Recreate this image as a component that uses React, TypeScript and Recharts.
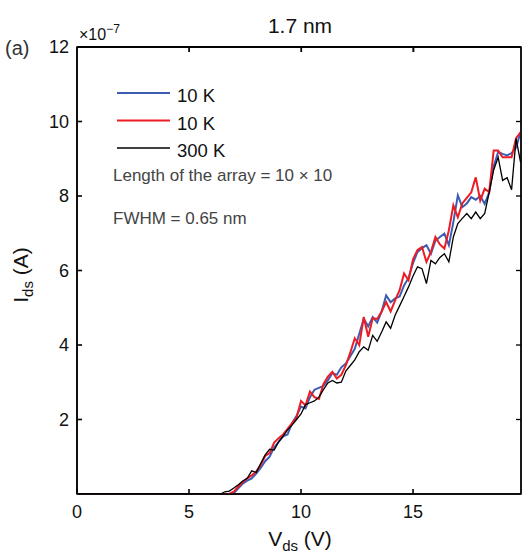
import { LineChart, Line, XAxis, YAxis, Legend, ReferenceArea } from "recharts"

// drain voltage (V)
const vds = [
    0, 6.4, 6.6, 6.8, 7.0, 7.2, 7.4, 7.6, 7.8, 8.0, 8.2, 8.4, 8.6, 8.8, 9.0, 9.2, 9.4, 9.6, 9.8, 10.0,
    10.2, 10.4, 10.6, 10.8, 11.0, 11.2, 11.4, 11.6, 11.8, 12.0, 12.2, 12.4, 12.6, 12.8, 13.0, 13.2, 13.4,
    13.6, 13.8, 14.0, 14.2, 14.4, 14.6, 14.8, 15.0, 15.2, 15.4, 15.6, 15.8, 16.0, 16.2, 16.4, 16.6, 16.8,
    17.0, 17.2, 17.4, 17.6, 17.8, 18.0, 18.2, 18.4, 18.6, 18.8, 19.0, 19.2, 19.4, 19.6, 19.8
]

// drain current, in units of 1e-7 A
const blue10K = [
    0, 0, 0, 0, 0.02, 0.15, 0.28, 0.36, 0.42, 0.55, 0.7, 0.88, 1.0, 1.25, 1.4, 1.55, 1.6, 1.9, 2.1, 2.35,
    2.3, 2.6, 2.8, 2.85, 2.9, 3.05, 3.25, 3.2, 3.4, 3.5, 3.7, 3.9, 4.3, 4.7, 4.5, 4.75, 4.6, 4.9, 5.33, 5.15,
    5.25, 5.3, 5.6, 5.8, 6.2, 6.5, 6.6, 6.68, 6.45, 6.8, 6.9, 6.99, 6.68, 7.3, 8.02, 7.7, 7.8, 7.97, 7.9, 8.0,
    7.79, 8.1, 8.8, 9.18, 9.13, 9.09, 9.15, 9.3, 9.71
]
const red10K = [
    0, 0, 0, 0, 0.06, 0.2, 0.32, 0.42, 0.5, 0.6, 0.78, 1.02, 1.1, 1.38, 1.5, 1.6, 1.75, 1.9, 2.05, 2.5,
    2.38, 2.75, 2.6, 2.55, 2.95, 3.15, 3.28, 3.1, 3.2, 3.45, 3.8, 4.18, 4.0, 4.75, 4.22, 4.72, 4.7, 4.9, 5.15, 4.9,
    5.2, 5.47, 5.92, 5.74, 6.3, 6.55, 6.63, 6.23, 6.5, 6.9, 6.7, 6.59, 7.08, 7.75, 7.43, 7.8, 7.95, 8.1, 8.5, 7.88,
    8.2, 8.1, 9.22, 9.22, 9.04, 9.04, 9.04, 9.55, 9.71
]
const black300K = [
    0, 0, 0.06, 0.08, 0.16, 0.25, 0.35, 0.42, 0.62, 0.58, 0.82, 1.05, 1.2, 1.18, 1.4, 1.55, 1.72, 1.85, 2.0, 2.15,
    2.4, 2.45, 2.5, 2.6, 2.8, 2.98, 3.05, 2.98, 3.0, 3.3, 3.45, 3.6, 3.82, 3.95, 3.86, 4.26, 4.1, 4.35, 4.62, 4.45,
    4.8, 5.05, 5.3, 5.56, 5.85, 6.1, 6.05, 5.65, 6.27, 6.18, 6.35, 6.45, 6.23, 6.9, 7.26, 7.4, 7.53, 7.39, 7.57, 7.39,
    7.53, 8.1, 8.7, 9.04, 8.42, 8.49, 8.17, 9.54, 8.91
]

const xTicks = [0, 5, 10, 15]
const xTicksTop = [5, 10, 15]
const yTicks = [2, 4, 6, 8, 10, 12]
const yTicksRight = [2, 4, 6, 8, 10]

const data = vds.map((v, i) => ({ v, blue: blue10K[i], red: red10K[i], black: black300K[i] }))

const FONT = "'Liberation Sans', Arial, Helvetica, sans-serif"
const tickStyle = { fill: "#111", fontSize: 18, fontFamily: FONT }
const X_DOMAIN: [number, number] = [0, 19.82]
const Y_DOMAIN: [number, number] = [0, 12]
const noLabel = () => ""

// plot box geometry (from chart margins / axis sizes below)
const PLOT_LEFT = 77
const PLOT_RIGHT = 522
const PLOT_TOP = 47
const toPx = (v: number) => PLOT_LEFT + (v - X_DOMAIN[0]) / (X_DOMAIN[1] - X_DOMAIN[0]) * (PLOT_RIGHT - PLOT_LEFT)

const renderLegend = (props: any) => {
    const { payload } = props
    return (
        <svg width={130} height={84} style={{ display: "block" }}>
            {payload.map((entry: any, i: number) => (
                <g key={i}>
                    <line x1={0} x2={53} y1={10 + i * 27.5} y2={10 + i * 27.5}
                        stroke={entry.color} strokeWidth={entry.payload?.strokeWidth ?? 1.5} />
                    <text x={60} y={19 + i * 27.5} fontSize={18.5} fontFamily={FONT} fill="#111">{entry.value}</text>
                </g>
            ))}
        </svg>
    )
}

const App = () => {
    return (
        <div style={{ position: "fixed", left: 0, top: 0, width: 524, height: 553, background: "#fff" }}>
            <LineChart width={524} height={553} data={data}
                margin={{ top: 27, right: 2, left: 0, bottom: 0 }}>
                <XAxis dataKey="v" type="number" domain={X_DOMAIN} ticks={xTicks} allowDataOverflow
                    height={59} stroke="#000" strokeWidth={1.6} tickSize={-5} tickMargin={16} tick={tickStyle} />
                {/* mirror axes on top / right, same scale, to close the box like matlab */}
                <XAxis xAxisId="top" orientation="top" dataKey="v" type="number" domain={X_DOMAIN} allowDataOverflow
                    ticks={xTicksTop} height={20} stroke="#000" strokeWidth={1.3} tickSize={-5} tickFormatter={noLabel} />
                <YAxis type="number" domain={Y_DOMAIN} ticks={yTicks} width={77} stroke="#000" strokeWidth={1.6}
                    allowDataOverflow tickSize={-5} tickMargin={13} tick={tickStyle} />
                <YAxis yAxisId="right" orientation="right" type="number" domain={Y_DOMAIN} ticks={yTicksRight} width={1}
                    allowDataOverflow stroke="#000" strokeWidth={1.3} tickSize={-5} tickFormatter={noLabel} />
                <ReferenceArea x1={X_DOMAIN[0]} x2={X_DOMAIN[1]} y1={Y_DOMAIN[0]} y2={Y_DOMAIN[1]}
                    fill="none" fillOpacity={0} stroke="#000" strokeWidth={1.4} ifOverflow="visible" />
                <Legend layout="vertical" align="center" verticalAlign="middle" content={renderLegend}
                    wrapperStyle={{ left: 117, top: 83, right: "auto", bottom: "auto", width: 130, height: 84 }} />
                <Line type="linear" dataKey="blue" name="10 K" stroke="#3d5db3" strokeWidth={2} dot={false} isAnimationActive={false} />
                <Line type="linear" dataKey="red" name="10 K" stroke="#ec1c24" strokeWidth={2} dot={false} isAnimationActive={false} />
                <Line type="linear" dataKey="black" name="300 K" xAxisId="top" yAxisId="right" stroke="#000" strokeWidth={1.3}
                    dot={false} isAnimationActive={false} />
            </LineChart>
            <svg width={524} height={553} style={{ position: "absolute", left: 0, top: 0, pointerEvents: "none" }}
                fontFamily={FONT}>
                {/* top edge of the box with inward ticks */}
                <line x1={PLOT_LEFT} x2={PLOT_RIGHT - 1} y1={PLOT_TOP} y2={PLOT_TOP} stroke="#000" strokeWidth={1.3} />
                {xTicksTop.map((t) => (
                    <line key={t} x1={toPx(t)} x2={toPx(t)} y1={PLOT_TOP} y2={PLOT_TOP + 5} stroke="#000" strokeWidth={1.2} />
                ))}
                <text x={300} y={33} textAnchor="middle" fontSize={21} fill="#111">1.7 nm</text>
                <text x={5} y={55} fontSize={20} fill="#333">(a)</text>
                <text x={79} y={40} fontSize={16} fill="#111">
                    ×10<tspan fontSize={12} dy={-7}>−7</tspan>
                </text>
                <text x={113} y={181} fontSize={17} fill="#444">Length of the array = 10 × 10</text>
                <text x={113} y={224} fontSize={17} fill="#444">FWHM = 0.65 nm</text>
                <text x={300} y={546} textAnchor="middle" fontSize={21} fill="#111">
                    V<tspan fontSize={15} dy={5}>ds</tspan><tspan dy={-5}> (V)</tspan>
                </text>
                <text transform="translate(28,275) rotate(-90)" textAnchor="middle" fontSize={21} fill="#111">
                    I<tspan fontSize={15} dy={5}>ds</tspan><tspan dy={-5}> (A)</tspan>
                </text>
            </svg>
        </div>
    )
}

export default App
